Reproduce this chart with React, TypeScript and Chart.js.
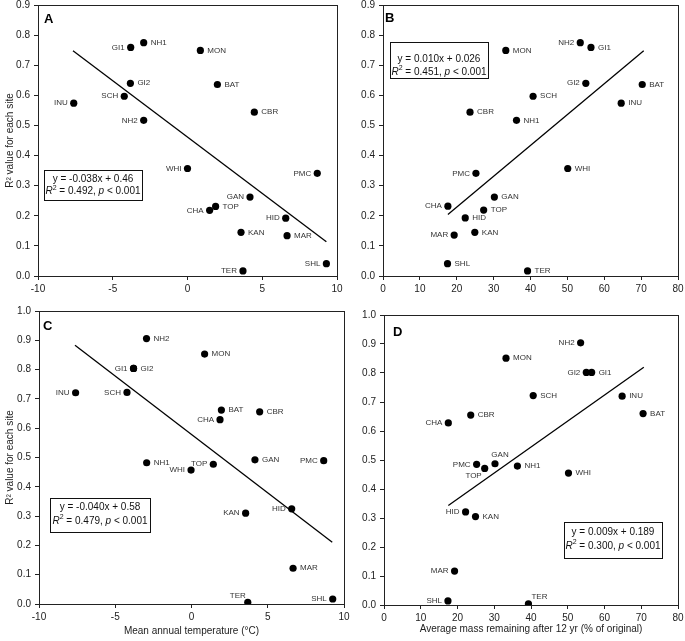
import React, { useEffect, useRef } from "react";
import { Chart, registerables } from "chart.js";

Chart.register(...registerables);

const FONT = "'Liberation Sans', Arial, Helvetica, sans-serif";

// ---------- Tick values ----------
const tempTicks = [-10, -5, 0, 5, 10];
const massTicks = [0, 10, 20, 30, 40, 50, 60, 70, 80];
const r2TicksTop = [0, 0.1, 0.2, 0.3, 0.4, 0.5, 0.6, 0.7, 0.8, 0.9];
const r2TicksBottom = [0, 0.1, 0.2, 0.3, 0.4, 0.5, 0.6, 0.7, 0.8, 0.9, 1.0];

// ---------- Panel A: R² vs mean annual temperature ----------
const sitesA = ["GI1", "NH1", "MON", "GI2", "BAT", "SCH", "INU", "CBR", "NH2", "WHI", "PMC", "GAN", "TOP", "CHA", "HID", "KAN", "MAR", "TER", "SHL"];
const tempA = [-3.8, -2.93, 0.86, -3.82, 2.0, -4.23, -7.61, 4.47, -2.93, 0.0, 8.68, 4.18, 1.88, 1.48, 6.57, 3.58, 6.66, 3.71, 9.29];
const r2A = [0.759, 0.775, 0.749, 0.64, 0.636, 0.597, 0.574, 0.544, 0.517, 0.357, 0.341, 0.262, 0.231, 0.218, 0.192, 0.145, 0.134, 0.017, 0.041];
const sidesA = ["l", "r", "r", "r", "r", "l", "l", "r", "l", "l", "l", "l", "r", "l", "l", "r", "r", "l", "l"];
const trendAx = [-7.66, 9.29];
const trendAy = [0.748, 0.114];

// ---------- Panel B: R² vs mass remaining ----------
const sitesB = ["MON", "NH2", "GI1", "GI2", "BAT", "INU", "SCH", "CBR", "NH1", "WHI", "PMC", "GAN", "TOP", "CHA", "HID", "KAN", "MAR", "SHL", "TER"];
const massB = [33.3, 53.5, 56.4, 55.0, 70.3, 64.6, 40.7, 23.6, 36.2, 50.1, 25.2, 30.2, 27.3, 17.6, 22.3, 24.9, 19.3, 17.5, 39.2];
const r2B = [0.749, 0.775, 0.759, 0.64, 0.636, 0.574, 0.597, 0.544, 0.517, 0.357, 0.341, 0.262, 0.219, 0.232, 0.193, 0.145, 0.136, 0.041, 0.017];
const sidesB = ["r", "l", "r", "l", "r", "r", "r", "r", "r", "r", "l", "r", "r", "l", "r", "r", "l", "r", "r"];
const trendBx = [17.6, 70.7];
const trendBy = [0.204, 0.748];

// ---------- Panel C: R² vs mean annual temperature ----------
const sitesC = ["NH2", "MON", "GI1", "GI2", "INU", "SCH", "BAT", "CBR", "CHA", "NH1", "TOP", "WHI", "GAN", "PMC", "KAN", "HID", "MAR", "TER", "SHL"];
const tempC = [-2.95, 0.86, -3.8, -3.8, -7.6, -4.23, 1.96, 4.47, 1.87, -2.94, 1.43, -0.03, 4.16, 8.67, 3.55, 6.57, 6.66, 3.69, 9.26];
const r2C = [0.906, 0.853, 0.804, 0.804, 0.721, 0.722, 0.662, 0.656, 0.629, 0.482, 0.477, 0.457, 0.492, 0.489, 0.31, 0.325, 0.122, 0.006, 0.017];
const sidesC = ["r", "r", "l", "r", "l", "l", "r", "r", "l", "r", "l", "l", "r", "l", "l", "l", "r", "ul", "l"];
const trendCx = [-7.64, 9.23];
const trendCy = [0.883, 0.211];

// ---------- Panel D: R² vs mass remaining ----------
const sitesD = ["NH2", "MON", "GI2", "GI1", "SCH", "INU", "BAT", "CBR", "CHA", "PMC", "GAN", "TOP", "NH1", "WHI", "HID", "KAN", "MAR", "SHL", "TER"];
const massD = [53.5, 33.2, 55.05, 56.5, 40.6, 64.8, 70.5, 23.6, 17.5, 25.2, 30.2, 27.4, 36.3, 50.2, 22.2, 24.9, 19.2, 17.4, 39.3];
const r2D = [0.904, 0.851, 0.802, 0.802, 0.722, 0.72, 0.66, 0.655, 0.628, 0.485, 0.487, 0.471, 0.479, 0.455, 0.321, 0.305, 0.117, 0.014, 0.004];
const sidesD = ["l", "r", "l", "r", "r", "r", "r", "r", "l", "l", "u", "dl", "r", "r", "l", "r", "l", "l", "ur"];
const trendDx = [17.5, 70.7];
const trendDy = [0.343, 0.82];

// ---------- Regression annotations ----------
const eqA = ["y = -0.038x + 0.46", "0.492"];
const eqB = ["y = 0.010x + 0.026", "0.451"];
const eqC = ["y = -0.040x + 0.58", "0.479"];
const eqD = ["y = 0.009x + 0.189", "0.300"];

const Y_TITLE = "R\u00B2 value for each site";

type Box = { x1: number; x2: number; y1: number; y2: number; l1: number; l2: number };

interface PanelDef {
  left: number; top: number; w: number; h: number;
  padTop: number; padRight: number;
  yWidth: number; xHeight: number;
  sites: string[]; xs: number[]; ys: number[]; sides: string[];
  trendX: number[]; trendY: number[];
  xMin: number; xMax: number; xTicks: number[];
  yMin: number; yMax: number; yTicks: number[];
  xTitle?: string; xTitlePad?: number; yTitle?: string;
  letter: string; letterDx: number; letterDy: number;
  eq: string[]; box: Box;
}

const panels: PanelDef[] = [
  {
    left: 0, top: -10, w: 352, h: 310, padTop: 15, padRight: 15, yWidth: 38, xHeight: 24,
    sites: sitesA, xs: tempA, ys: r2A, sides: sidesA, trendX: trendAx, trendY: trendAy,
    xMin: -10, xMax: 10, xTicks: tempTicks, yMin: 0, yMax: 0.9, yTicks: r2TicksTop,
    yTitle: Y_TITLE, letter: "A", letterDx: 6, letterDy: 18,
    eq: eqA, box: { x1: -9.6, x2: -3.02, y1: 0.351, y2: 0.254, l1: 0.322, l2: 0.28 },
  },
  {
    left: 345, top: -10, w: 355, h: 310, padTop: 15, padRight: 22, yWidth: 38, xHeight: 24,
    sites: sitesB, xs: massB, ys: r2B, sides: sidesB, trendX: trendBx, trendY: trendBy,
    xMin: 0, xMax: 80, xTicks: massTicks, yMin: 0, yMax: 0.9, yTicks: r2TicksTop,
    letter: "B", letterDx: 2, letterDy: 17,
    eq: eqB, box: { x1: 1.8, x2: 28.35, y1: 0.776, y2: 0.657, l1: 0.721, l2: 0.676 },
  },
  {
    left: 0, top: 296, w: 360, h: 345, padTop: 15, padRight: 16, yWidth: 39, xHeight: 37,
    sites: sitesC, xs: tempC, ys: r2C, sides: sidesC, trendX: trendCx, trendY: trendCy,
    xMin: -10, xMax: 10, xTicks: tempTicks, yMin: 0, yMax: 1.0, yTicks: r2TicksBottom,
    xTitle: "Mean annual temperature (\u00B0C)", xTitlePad: 4, yTitle: Y_TITLE,
    letter: "C", letterDx: 4, letterDy: 19,
    eq: eqC, box: { x1: -9.28, x2: -2.72, y1: 0.363, y2: 0.247, l1: 0.329, l2: 0.284 },
  },
  {
    left: 345, top: 300, w: 355, h: 341, padTop: 15, padRight: 22, yWidth: 39, xHeight: 36,
    sites: sitesD, xs: massD, ys: r2D, sides: sidesD, trendX: trendDx, trendY: trendDy,
    xMin: 0, xMax: 80, xTicks: massTicks, yMin: 0, yMax: 1.0, yTicks: r2TicksBottom,
    xTitle: "Average mass remaining after 12 yr (% of original)", xTitlePad: 6,
    letter: "D", letterDx: 9, letterDy: 21,
    eq: eqD, box: { x1: 48.98, x2: 75.56, y1: 0.287, y2: 0.161, l1: 0.252, l2: 0.204 },
  },
];

function drawR2Line(ctx: CanvasRenderingContext2D, cx: number, cy: number, value: string) {
  const segs = [
    { t: "R", f: `italic 10px ${FONT}`, dy: 0, w: 0 },
    { t: "2", f: `7px ${FONT}`, dy: -4, w: 0 },
    { t: ` = ${value}, `, f: `10px ${FONT}`, dy: 0, w: 0 },
    { t: "p", f: `italic 10px ${FONT}`, dy: 0, w: 0 },
    { t: " < 0.001", f: `10px ${FONT}`, dy: 0, w: 0 },
  ];
  let total = 0;
  for (const s of segs) {
    ctx.font = s.f;
    s.w = ctx.measureText(s.t).width;
    total += s.w;
  }
  let x = cx - total / 2;
  ctx.textAlign = "left";
  ctx.textBaseline = "middle";
  for (const s of segs) {
    ctx.font = s.f;
    ctx.fillText(s.t, x, cy + s.dy);
    x += s.w;
  }
}

function Panel({ def }: { def: PanelDef }) {
  const ref = useRef<HTMLCanvasElement>(null);

  useEffect(() => {
    const canvas = ref.current;
    if (!canvas) return;

    const overlay = {
      id: "overlay",
      afterDatasetsDraw(chart: any) {
        const ctx: CanvasRenderingContext2D = chart.ctx;
        const ca = chart.chartArea;
        const xs = chart.scales.x;
        const ys = chart.scales.y;
        ctx.save();

        // plot frame
        ctx.strokeStyle = "#222";
        ctx.lineWidth = 1;
        ctx.strokeRect(
          Math.round(ca.left) + 0.5,
          Math.round(ca.top) + 0.5,
          Math.round(ca.right) - Math.round(ca.left),
          Math.round(ca.bottom) - Math.round(ca.top)
        );

        // point labels
        const meta = chart.getDatasetMeta(1);
        ctx.font = `8px ${FONT}`;
        ctx.fillStyle = "#333";
        ctx.textBaseline = "middle";
        meta.data.forEach((el: any, i: number) => {
          const px = el.x;
          const py = el.y;
          let tx = px + 7;
          let ty = py;
          let align: CanvasTextAlign = "left";
          switch (def.sides[i]) {
            case "l": tx = px - 6; align = "right"; break;
            case "u": tx = px + 5; ty = py - 9; align = "center"; break;
            case "ul": tx = px - 2; ty = py - 6; align = "right"; break;
            case "ur": tx = px + 3; ty = py - 7; align = "left"; break;
            case "dl": tx = px - 3; ty = py + 7; align = "right"; break;
            default: break;
          }
          ctx.textAlign = align;
          ctx.fillText(def.sites[i], tx, ty);
        });

        // panel letter
        ctx.fillStyle = "#000";
        ctx.font = `bold 13px ${FONT}`;
        ctx.textAlign = "left";
        ctx.textBaseline = "alphabetic";
        ctx.fillText(def.letter, ca.left + def.letterDx, ca.top + def.letterDy);

        // regression box
        const b = def.box;
        const bx1 = Math.round(xs.getPixelForValue(b.x1));
        const bx2 = Math.round(xs.getPixelForValue(b.x2));
        const by1 = Math.round(ys.getPixelForValue(b.y1));
        const by2 = Math.round(ys.getPixelForValue(b.y2));
        ctx.fillStyle = "#fff";
        ctx.fillRect(bx1, by1, bx2 - bx1, by2 - by1);
        ctx.strokeStyle = "#111";
        ctx.lineWidth = 1;
        ctx.strokeRect(bx1 + 0.5, by1 + 0.5, bx2 - bx1, by2 - by1);
        const cx = (bx1 + bx2) / 2;
        ctx.fillStyle = "#111";
        ctx.font = `10px ${FONT}`;
        ctx.textAlign = "center";
        ctx.textBaseline = "middle";
        ctx.fillText(def.eq[0], cx, ys.getPixelForValue(b.l1));
        drawR2Line(ctx, cx, ys.getPixelForValue(b.l2), def.eq[1]);

        ctx.restore();
      },
    };

    const points = def.xs.map((x, i) => ({ x, y: def.ys[i] }));
    const trend = def.trendX.map((x, i) => ({ x, y: def.trendY[i] }));

    const tickFont = { family: FONT, size: 10 };

    const chart = new Chart(canvas, {
      type: "scatter",
      data: {
        datasets: [
          {
            data: trend,
            showLine: true,
            borderColor: "#000",
            borderWidth: 1.3,
            pointRadius: 0,
            pointHoverRadius: 0,
          } as any,
          {
            data: points,
            backgroundColor: "#000",
            borderColor: "#000",
            borderWidth: 0,
            pointRadius: 3.6,
            pointHoverRadius: 3.6,
          },
        ],
      },
      options: {
        animation: false,
        responsive: false,
        maintainAspectRatio: false,
        events: [],
        layout: { padding: { top: def.padTop, right: def.padRight, left: 0, bottom: 0 } },
        plugins: {
          legend: { display: false },
          tooltip: { enabled: false },
        },
        scales: {
          x: {
            type: "linear",
            min: def.xMin,
            max: def.xMax,
            afterBuildTicks: (s: any) => {
              s.ticks = def.xTicks.map((v) => ({ value: v }));
            },
            afterFit: (s: any) => {
              s.height = def.xHeight;
            },
            ticks: {
              font: tickFont,
              color: "#222",
              padding: 3,
              maxRotation: 0,
              autoSkip: false,
              callback: (v: any) => String(v),
            },
            grid: {
              drawOnChartArea: false,
              drawTicks: true,
              tickLength: 4,
              color: "#222",
            },
            border: { display: true, color: "#222", width: 1 },
            title: def.xTitle
              ? {
                  display: true,
                  text: def.xTitle,
                  font: { family: FONT, size: 10 },
                  color: "#222",
                  padding: { top: 0, bottom: def.xTitlePad ?? 4 },
                }
              : { display: false },
          },
          y: {
            type: "linear",
            min: def.yMin,
            max: def.yMax,
            afterBuildTicks: (s: any) => {
              s.ticks = def.yTicks.map((v) => ({ value: v }));
            },
            afterFit: (s: any) => {
              s.width = def.yWidth;
            },
            ticks: {
              font: tickFont,
              color: "#222",
              padding: 4,
              autoSkip: false,
              callback: (v: any) => Number(v).toFixed(1),
            },
            grid: {
              drawOnChartArea: false,
              drawTicks: true,
              tickLength: 4,
              color: "#222",
            },
            border: { display: true, color: "#222", width: 1 },
            title: def.yTitle
              ? {
                  display: true,
                  text: def.yTitle,
                  font: { family: FONT, size: 10 },
                  color: "#222",
                  padding: { top: 4, bottom: 0 },
                }
              : { display: false },
          },
        },
      },
      plugins: [overlay],
    });

    return () => chart.destroy();
  }, [def]);

  return (
    <canvas
      ref={ref}
      width={def.w}
      height={def.h}
      style={{ position: "absolute", left: def.left, top: def.top, width: def.w, height: def.h }}
    />
  );
}

export default function App() {
  return (
    <div
      style={{
        position: "absolute",
        left: 0,
        top: 0,
        width: 685,
        height: 641,
        overflow: "hidden",
        background: "#fff",
      }}
    >
      {panels.map((p) => (
        <Panel key={p.letter} def={p} />
      ))}
    </div>
  );
}
